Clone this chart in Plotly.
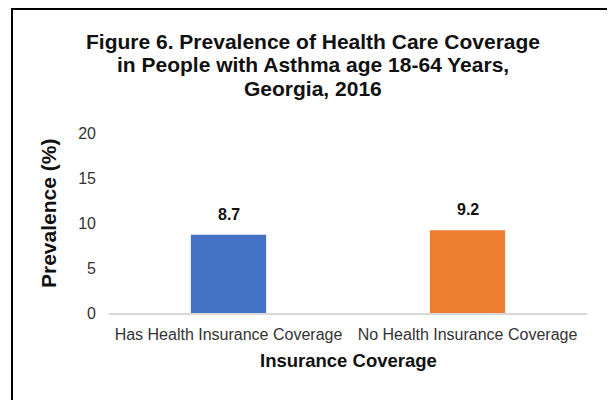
import plotly.graph_objects as go

categories = ["Has Health Insurance Coverage", "No Health Insurance Coverage"]
values = [8.7, 9.2]
bar_colors = ["#4472C4", "#ED7D31"]
y_ticks = [0, 5, 10, 15, 20]
title_lines = [
    "Figure 6. Prevalence of Health Care Coverage",
    "in People with Asthma age 18-64 Years,",
    "Georgia, 2016",
]

FONT = "Arial, Liberation Sans, Helvetica, sans-serif"

# figure geometry (page body adds an 8px offset)
W, H = 607, 392
L, R, T, B = 101, 28, 125, 87
PW, PH = W - L - R, H - T - B


def px_x(x):
    return (x - L) / PW


def px_y(y):
    return (H - B - y) / PH


fig = go.Figure()
fig.add_trace(go.Bar(
    x=categories, y=values,
    marker=dict(color=bar_colors, line=dict(width=0)),
    width=0.315,
    hoverinfo="x+y",
))

annotations = []
for c, v in zip(categories, values):
    annotations.append(dict(
        x=c, y=v, xref="x", yref="y",
        text=f"<b>{v:.1f}</b>", showarrow=False,
        yanchor="bottom", yshift=10,
        font=dict(family=FONT, size=16, color="#111111"),
    ))

for i, line in enumerate(title_lines):
    annotations.append(dict(
        x=px_x(304.5), y=px_y(33 + 23.5 * i), xref="paper", yref="paper",
        text=f"<b>{line}</b>", showarrow=False,
        xanchor="center", yanchor="middle",
        font=dict(family=FONT, size=21, color="#111111"),
    ))

annotations.append(dict(
    x=px_x(40), y=px_y(206), xref="paper", yref="paper",
    text="<b>Prevalence (%)</b>", textangle=-90, showarrow=False,
    xanchor="center", yanchor="middle",
    font=dict(family=FONT, size=21, color="#111111"),
))
annotations.append(dict(
    x=0.5, y=px_y(352), xref="paper", yref="paper",
    text="<b>Insurance Coverage</b>", showarrow=False,
    xanchor="center", yanchor="middle",
    font=dict(family=FONT, size=18.5, color="#111111"),
))

fig.update_layout(
    width=W, height=H,
    margin=dict(l=L, r=R, t=T, b=B, autoexpand=False),
    paper_bgcolor="white", plot_bgcolor="white",
    showlegend=False,
    font=dict(family=FONT, color="#222222"),
    xaxis=dict(
        automargin=False,
        showline=True, linecolor="#D9D9D9", linewidth=1.5,
        ticks="", ticklabelstandoff=6,
        tickfont=dict(size=16, color="#333333"),
    ),
    yaxis=dict(
        automargin=False,
        range=[0, 20], tickvals=y_ticks, showgrid=False, zeroline=False,
        showline=False, ticks="", ticklabelstandoff=12,
        tickfont=dict(size=16, color="#333333"),
    ),
    annotations=annotations,
    shapes=[dict(
        type="rect", xref="paper", yref="paper",
        x0=px_x(4), x1=1.3, y0=-0.7, y1=px_y(1),
        line=dict(color="black", width=2), fillcolor="rgba(0,0,0,0)", layer="above",
    )],
)

fig.write_html("out.html")
